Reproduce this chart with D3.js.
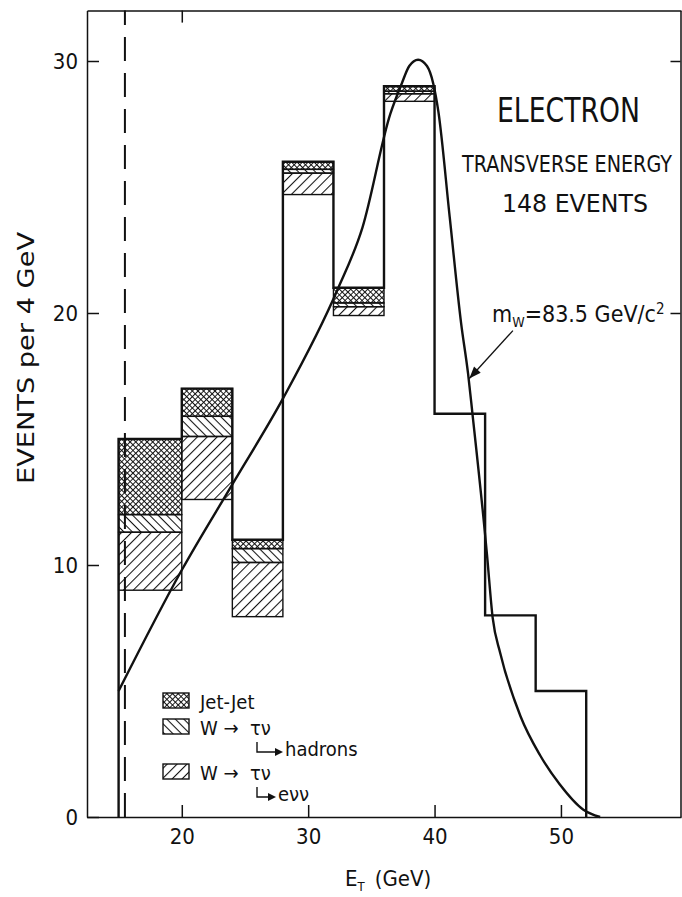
<!DOCTYPE html>
<html>
<head>
<meta charset="utf-8">
<script src="https://cdn.jsdelivr.net/npm/d3@7"></script>
<style>
  body { margin: 0; background: #fff; }
  svg { display: block; }
  text { font-family: "DejaVu Sans Condensed", "DejaVu Sans", sans-serif; fill: #111; }
</style>
</head>
<body>
<div id="chart"></div>
<script>
// bins in GeV, total events per bin and background pieces (stacked on top of each bin)
var binEdges = [15, 20, 24, 28, 32, 36, 40, 44, 48, 52];
var totals = [15, 17, 11, 26, 21, 29, 16, 8, 5];
var jetJet = [3.0, 1.1, 0.35, 0.3, 0.6, 0.2, 0, 0, 0];
var tauHadrons = [0.7, 0.8, 0.55, 0.15, 0.15, 0.1, 0, 0, 0];
var tauEnn = [2.3, 2.5, 2.15, 0.85, 0.35, 0.3, 0, 0, 0];

// fitted curve, mW = 83.5
var curveE = [15.0, 20.0, 24.0, 28.0, 32.3, 34.3, 36.5, 37.4, 38.0, 38.7, 39.4, 39.9, 40.3, 41.2, 42.1, 42.65, 43.0, 44.0, 44.15, 44.6, 45.2, 46.8, 48.35, 49.9, 51.75, 53.1];
var curveN = [5.0, 9.8, 13.2, 16.6, 20.9, 23.4, 27.9, 29.1, 29.8, 30.05, 29.8, 29.1, 28.0, 23.8, 19.6, 17.6, 16.0, 11.2, 10.4, 7.9, 6.5, 4.0, 2.45, 1.3, 0.3, 0];

var cutE = 15.5;
var yTicks = [0, 10, 20, 30];
var xTicks = [20, 30, 40, 50];
var arrowFrom = [46.2, 19.3];
var arrowTo = [42.75, 17.4];

var W = 682, H = 897;
var margin = {top: 10.6, right: 1, bottom: 80, left: 87};

var svg = d3.select("#chart").append("svg")
    .attr("width", W)
    .attr("height", H);

var x = d3.scaleLinear().domain([12.5, 59.5]).range([margin.left, W - margin.right]);
var y = d3.scaleLinear().domain([0, 32]).range([H - margin.bottom, margin.top]);

makePatterns();
drawBackgrounds();
drawHistogram();
drawCurve();
drawAxes();
drawTexts();
drawLegend();

function makePatterns() {
    var defs = svg.append("defs");
    defs.append("pattern")
        .attr("id", "crossHatch")
        .attr("patternUnits", "userSpaceOnUse")
        .attr("width", 4).attr("height", 4)
        .attr("patternTransform", "rotate(45)")
      .append("path")
        .attr("d", "M0,0 H4 M0,0 V4")
        .attr("stroke", "#111")
        .attr("stroke-width", 1.9);
    defs.append("pattern")
        .attr("id", "hatchBack")
        .attr("patternUnits", "userSpaceOnUse")
        .attr("width", 6).attr("height", 6)
        .attr("patternTransform", "rotate(45)")
      .append("path")
        .attr("d", "M0,0.5 H6")
        .attr("stroke", "#111")
        .attr("stroke-width", 1.1);
    defs.append("pattern")
        .attr("id", "hatchFwd")
        .attr("patternUnits", "userSpaceOnUse")
        .attr("width", 7).attr("height", 7)
        .attr("patternTransform", "rotate(-45)")
      .append("path")
        .attr("d", "M0,0.5 H7")
        .attr("stroke", "#111")
        .attr("stroke-width", 1.1);
}

function drawBackgrounds() {
    var rows = [];
    totals.forEach(function(t, i) {
        if (jetJet[i] + tauHadrons[i] + tauEnn[i] == 0) return;
        var top = t;
        [[jetJet[i], "crossHatch"], [tauHadrons[i], "hatchBack"], [tauEnn[i], "hatchFwd"]].forEach(function(p) {
            rows.push({x0: binEdges[i], x1: binEdges[i + 1], hi: top, lo: top - p[0], fill: p[1]});
            top -= p[0];
        });
    });
    svg.append("g").selectAll("rect")
      .data(rows)
      .enter()
      .append("rect")
        .attr("x", function(d) { return x(d.x0); })
        .attr("width", function(d) { return x(d.x1) - x(d.x0); })
        .attr("y", function(d) { return y(d.hi); })
        .attr("height", function(d) { return y(d.lo) - y(d.hi); })
        .attr("fill", function(d) { return "url(#" + d.fill + ")"; })
        .attr("stroke", "#111")
        .attr("stroke-width", 1.4);
}

function drawHistogram() {
    var pts = [[binEdges[0], 0]];
    totals.forEach(function(t, i) {
        pts.push([binEdges[i], t]);
        pts.push([binEdges[i + 1], t]);
    });
    pts.push([binEdges[binEdges.length - 1], 0]);
    svg.append("path")
        .datum(pts)
        .attr("fill", "none")
        .attr("stroke", "#111")
        .attr("stroke-width", 2.4)
        .attr("d", d3.line().x(function(d) { return x(d[0]); }).y(function(d) { return y(d[1]); }));

    // E_T cut
    svg.append("line")
        .attr("x1", x(cutE)).attr("x2", x(cutE))
        .attr("y1", y(0)).attr("y2", y(32))
        .attr("stroke", "#111")
        .attr("stroke-width", 2)
        .attr("stroke-dasharray", "24,12");
}

function drawCurve() {
    var pts = curveE.map(function(e, i) { return [e, curveN[i]]; });
    svg.append("path")
        .datum(pts)
        .attr("fill", "none")
        .attr("stroke", "#111")
        .attr("stroke-width", 2.4)
        .attr("d", d3.line()
            .x(function(d) { return x(d[0]); })
            .y(function(d) { return y(d[1]); })
            .curve(d3.curveMonotoneX));
}

// squeeze a text horizontally so it spans the given width
function fitText(sel, x0, y0, width, rot) {
    var w = sel.node().getComputedTextLength();
    var k = width / w;
    sel.attr("transform", "translate(" + x0 + "," + y0 + ")" + (rot ? " rotate(" + rot + ")" : "") + " scale(" + k + ",1)");
}

function drawAxes() {
    var fs = "22px";
    var left = svg.append("g")
        .attr("transform", "translate(" + margin.left + ",0)")
        .call(d3.axisLeft(y).tickValues(yTicks).tickSize(-12).tickSizeOuter(0).tickPadding(9));
    var bottom = svg.append("g")
        .attr("transform", "translate(0," + y(0) + ")")
        .call(d3.axisBottom(x).tickValues(xTicks).tickSize(-12).tickSizeOuter(0).tickPadding(11));
    var top = svg.append("g")
        .attr("transform", "translate(0," + y(32) + ")")
        .call(d3.axisTop(x).tickValues([20]).tickSize(-12).tickSizeOuter(0).tickFormat(""));
    var right = svg.append("g")
        .attr("transform", "translate(" + (W - margin.right - 0.5) + ",0)")
        .call(d3.axisRight(y).tickValues([20, 30]).tickSize(-10).tickSizeOuter(0).tickFormat(""));
    [left, bottom, top, right].forEach(function(g) {
        g.selectAll("path, line").attr("stroke", "#111").attr("stroke-width", 1.5);
        g.selectAll("text").style("font-size", fs).attr("fill", "#111");
    });

    var yl = svg.append("text")
        .attr("text-anchor", "middle")
        .style("font-size", "23px")
        .text("EVENTS per 4 GeV");
    fitText(yl, 34, 358, 252, -90);

    var xl = svg.append("text")
        .attr("x", 345)
        .attr("y", 886)
        .style("font-size", "22px");
    xl.append("tspan").text("E");
    xl.append("tspan").attr("dy", 5).style("font-size", "13px").text("T");
    xl.append("tspan").attr("dy", -5).attr("dx", 10).text("(GeV)");
}

function drawTexts() {
    fitText(svg.append("text").style("font-size", "33px").text("ELECTRON"), 497, 122, 143);
    fitText(svg.append("text").style("font-size", "23px").text("TRANSVERSE ENERGY"), 462, 172, 210);
    fitText(svg.append("text").style("font-size", "24px").text("148 EVENTS"), 502, 212, 146);

    var m = svg.append("text")
        .attr("x", 492).attr("y", 322)
        .style("font-size", "23px");
    m.append("tspan").text("m");
    m.append("tspan").attr("dy", 5).style("font-size", "14px").text("W");
    m.append("tspan").attr("dy", -5).text("=83.5 GeV/c");
    m.append("tspan").attr("dy", -8).style("font-size", "15px").text("2");

    // arrow to the curve
    var x1 = x(arrowFrom[0]), y1 = y(arrowFrom[1]), x2 = x(arrowTo[0]), y2 = y(arrowTo[1]);
    var ang = Math.atan2(y2 - y1, x2 - x1);
    svg.append("line")
        .attr("x1", x1).attr("y1", y1).attr("x2", x2).attr("y2", y2)
        .attr("stroke", "#111").attr("stroke-width", 1.3);
    var hl = 12, hw = 4.5;
    var bx = x2 - hl * Math.cos(ang), by = y2 - hl * Math.sin(ang);
    svg.append("path")
        .attr("d", "M" + x2 + "," + y2 +
              "L" + (bx + hw * Math.sin(ang)) + "," + (by - hw * Math.cos(ang)) +
              "L" + (bx - hw * Math.sin(ang)) + "," + (by + hw * Math.cos(ang)) + "Z")
        .attr("fill", "#111");
}

function hookArrow(g, x0, y0, len) {
    g.append("path")
        .attr("d", "M" + x0 + "," + y0 + "V" + (y0 + 10) + "H" + (x0 + len))
        .attr("fill", "none").attr("stroke", "#111").attr("stroke-width", 1.4);
    g.append("path")
        .attr("d", "M" + (x0 + len + 6) + "," + (y0 + 10) + "l-8,-4 v8 Z")
        .attr("fill", "#111");
}

function drawLegend() {
    var g = svg.append("g");
    var items = [
        {fill: "crossHatch", y: 693, label: "Jet-Jet"},
        {fill: "hatchBack", y: 719, label: "W →", sub: "hadrons"},
        {fill: "hatchFwd", y: 764, label: "W →", sub: "eνν"}
    ];
    items.forEach(function(it) {
        g.append("rect")
            .attr("x", 163).attr("y", it.y)
            .attr("width", 26).attr("height", 15)
            .attr("fill", "url(#" + it.fill + ")")
            .attr("stroke", "#111").attr("stroke-width", 1.4);
        g.append("text")
            .attr("x", 200).attr("y", it.y + 16)
            .style("font-size", "20px")
            .text(it.label);
        if (it.sub) {
            g.append("text")
                .attr("x", 250).attr("y", it.y + 16)
                .style("font-size", "20px")
                .text("τν");
            hookArrow(g, 257, it.y + 23, it.sub == "hadrons" ? 20 : 13);
            g.append("text")
                .attr("x", it.sub == "hadrons" ? 285 : 278).attr("y", it.y + 37)
                .style("font-size", "20px")
                .text(it.sub);
        }
    });
}
</script>
</body>
</html>
